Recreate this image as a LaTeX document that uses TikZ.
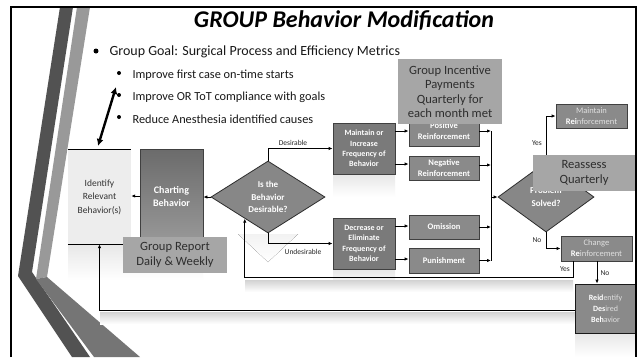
\documentclass[tikz,border=0pt]{standalone}
\usepackage{fontspec}
\setmainfont{Carlito}
\usetikzlibrary{arrows.meta,shapes.geometric}

\definecolor{stripeDark}{gray}{0.32}
\definecolor{stripeLight}{gray}{0.6}
\definecolor{stripeLow}{gray}{0.46}
\definecolor{boxEdge}{gray}{0.25}
\definecolor{boxFill}{gray}{0.48}
\definecolor{stepFill}{gray}{0.54}
\definecolor{decFill}{gray}{0.53}
\definecolor{chartTop}{gray}{0.42}
\definecolor{chartBot}{gray}{0.6}
\definecolor{noteFill}{gray}{0.65}
\definecolor{noteText}{gray}{0.18}
\definecolor{paleText}{gray}{0.88}
\definecolor{identFill}{gray}{0.93}

\tikzset{
  conn/.style={line width=1pt, draw=black},
  arr/.style={conn, -{Latex[length=4pt,width=3.4pt]}},
  actbox/.style={draw=boxEdge, line width=0.8pt, fill=boxFill, text=white,
    font=\fontsize{8}{10.3}\selectfont\bfseries, align=center, inner sep=0pt},
  stepbox/.style={draw=boxEdge, line width=0.8pt, fill=stepFill, text=white,
    font=\fontsize{8.5}{11}\selectfont\bfseries, align=center, inner sep=0pt,
    minimum width=70pt},
  outbox/.style={draw=boxEdge, line width=0.8pt, fill=stepFill, text=paleText,
    font=\fontsize{8.5}{11}\selectfont, align=center, inner sep=0pt},
  decision/.style={diamond, draw=gray!35!black, line width=0.8pt, fill=decFill,
    text=white, font=\fontsize{9}{12.5}\selectfont\bfseries, align=center, inner sep=0pt},
  notebox/.style={fill=noteFill, text=noteText, font=\fontsize{12.6}{14.4}\selectfont,
    align=center, inner sep=0pt},
  edgelabel/.style={font=\fontsize{7.5}{9}\selectfont, text=black!85, inner sep=0pt},
  bullettext/.style={anchor=west, text=black!90},
  reflect/.style={top color=gray!18, bottom color=white, draw=none},
}

\begin{document}
\begin{tikzpicture}[x=1pt,y=-1pt]
\useasboundingbox (0,0) rectangle (639,357);
\fill[white] (0,0) rectangle (639,357);

% decorative chevron stripes on the left
\fill[stripeDark] (60,7) -- (73,7) -- (32,272) -- (90,357) -- (72,357) -- (18,276) -- cycle;
\fill[stripeLight] (77,7) -- (90,7) -- (47,277) -- (36,279) -- cycle;
\fill[stripeLow] (36,279) -- (47,277) -- (140,357) -- (94,357) -- cycle;

% title and bullet list
\node[font=\fontsize{24}{28}\selectfont\bfseries\itshape] (title) at (344,20) {GROUP Behavior Modification};
\fill (96,51) circle (2.5pt);
\node[bullettext, font=\fontsize{14}{16}\selectfont] (goal) at (106,52)
  {Group Goal: Surgical Process and Efficiency Metrics};
\fill (119,73) circle (2pt);
\fill (119,95) circle (2pt);
\fill (119,117) circle (2pt);
\node[bullettext, font=\fontsize{12.3}{14}\selectfont] (g1) at (129,75) {Improve first case on-time starts};
\node[bullettext, font=\fontsize{12.3}{14}\selectfont] (g2) at (129,97) {Improve OR ToT compliance with goals};
\node[bullettext, font=\fontsize{12.3}{14}\selectfont] (g3) at (129,119) {Reduce Anesthesia identified causes};

% double-headed link between the goals and the first step
\coordinate (linkTop) at (116,87);
\coordinate (linkBot) at (98,146);
\draw[line width=2.4pt, {Latex[length=7pt,width=7pt]}-{Latex[length=7pt,width=7pt]}] (linkTop) -- (linkBot);

% soft reflections under the shapes
\fill[reflect] (68,245) rectangle (203,280);
\fill[reflect] (333,175) rectangle (395,197);
\fill[reflect] (333,270) rectangle (395,290);
\fill[top color=gray!10, bottom color=white] (238,234) -- (298,234) -- (268,262) -- cycle;
\fill[reflect] (575,334) rectangle (636,357);
\fill[top color=gray!35, bottom color=white] (245,280) rectangle (573,292);
\fill[top color=gray!35, bottom color=white] (100,312) rectangle (575,324);

% left-hand steps
\node[fill=identFill, minimum width=63pt, minimum height=94pt, inner sep=0pt,
      font=\fontsize{9.5}{13.5}\selectfont, text=black!80, align=center] (ident) at (99.5,197)
  {Identify\\Relevant\\Behavior(s)};
\draw[line width=1pt] (ident.north west) -- (ident.north east);
\draw[line width=1pt] (ident.south west) -- (ident.south east);
\node[draw=boxEdge, line width=0.8pt, top color=chartTop, bottom color=chartBot,
      minimum width=63pt, minimum height=95pt, inner sep=0pt, text=white,
      font=\fontsize{10}{13}\selectfont\bfseries, align=center] (chart) at (171.5,196.5)
  {Charting\\Behavior};
\node[decision, minimum width=114pt, minimum height=72pt] (dia1) at (268,197)
  {Is the\\Behavior\\Desirable?};

% intermediate actions
\node[actbox, minimum width=62pt, minimum height=51pt] (maint) at (364,148.5)
  {Maintain or\\Increase\\Frequency of\\Behavior};
\node[actbox, minimum width=62pt, minimum height=51pt] (decr) at (364,243.5)
  {Decrease or\\Eliminate\\Frequency of\\Behavior};

% consequences
\node[stepbox, minimum height=30pt] (pos) at (444,131) {Positive\\Reinforcement};
\node[stepbox, minimum height=24pt] (neg) at (444,168) {Negative\\Reinforcement};
\node[stepbox, minimum height=24pt] (omis) at (444,227) {Omission};
\node[stepbox, minimum height=25pt] (pun) at (444,260.5) {Punishment};

% outcome check
\node[decision, minimum width=96pt, minimum height=70pt] (dia2) at (546,197)
  {Problem\\Solved?};
\node[outbox, minimum width=71pt, minimum height=24pt] (mreinf) at (591.5,116)
  {Maintain\\\textbf{\color{white}Rei}nforcement};
\node[outbox, minimum width=71pt, minimum height=25pt] (chg) at (596.5,248.5)
  {Change\\\textbf{\color{white}Re}inforcement};
\node[outbox, draw=gray!20!black, minimum width=61pt, minimum height=49pt,
      font=\fontsize{8}{11}\selectfont] (reid) at (605.5,308.5)
  {\textbf{\color{white}Reid}entify\\\textbf{\color{white}Des}ired\\\textbf{\color{white}Beh}avior};

% connectors
\draw[arr] (chart.west |- 0,196) -- (ident.east |- 0,196);
\draw[arr] (dia1.west) -- (chart.east |- dia1.west);
\draw[arr] (dia1.north) |- (maint.west);
\draw[arr] (dia1.south) |- (decr.west);
\node[edgelabel] (lblDes) at (293,143) {Desirable};
\node[edgelabel] (lblUnd) at (303,252) {Undesirable};

\draw[arr] (maint.east |- pos.west) -- (pos.west);
\draw[arr] ([yshift=4pt]maint.east |- neg.west) -- ([yshift=4pt]neg.west);
\draw[arr] ([yshift=1pt]decr.east |- omis.west) -- ([yshift=1pt]omis.west);
\draw[arr] ([yshift=1.5pt]decr.east |- pun.west) -- ([yshift=1.5pt]pun.west);

\coordinate (bus) at (491,197);
\draw[arr] (pos.east) -- (pos.east -| bus);
\draw[arr] ([yshift=3pt]neg.east) -- ([yshift=3pt]neg.east -| bus);
\draw[arr] (omis.east) -- (omis.east -| bus);
\draw[arr] (pun.east) -- (pun.east -| bus);
\draw[conn] (pos.east -| bus) -- (pun.east -| bus);
\draw[arr] (bus) -- (dia2.west);

\draw[arr] (dia2.north) |- (mreinf.west);
\draw[arr] (dia2.south) |- (chg.west);
\node[edgelabel] (lblYes1) at (537,143) {Yes};
\node[edgelabel] (lblNo1) at (537,240) {No};

\coordinate (loopYes) at (573,277);
\draw[arr] (chg.south -| loopYes) -- (loopYes) -| (dia1.223);
\node[edgelabel] (lblYes2) at (565,269) {Yes};
\draw[arr] (chg.south -| 597,0) -- (reid.north -| 597,0);
\node[edgelabel] (lblNo2) at (605,273) {No};
\draw[arr] (reid.west |- 0,310) -| (ident.south);

% overlaid notes
\node[notebox, minimum width=104pt, minimum height=65pt] (incent) at (450,91.5)
  {Group Incentive\\Payments\\Quarterly for\\each month met};
\node[notebox, minimum width=104pt, minimum height=36pt] (report) at (175,255)
  {Group Report\\Daily \& Weekly};
\node[notebox, minimum width=103pt, minimum height=36pt] (reassess) at (584,173)
  {Reassess\\Quarterly};

% slide frame
\draw[line width=2.2pt] (11,357) -- (11,7) -- (636,7) -- (636,357);
\end{tikzpicture}
\end{document}
